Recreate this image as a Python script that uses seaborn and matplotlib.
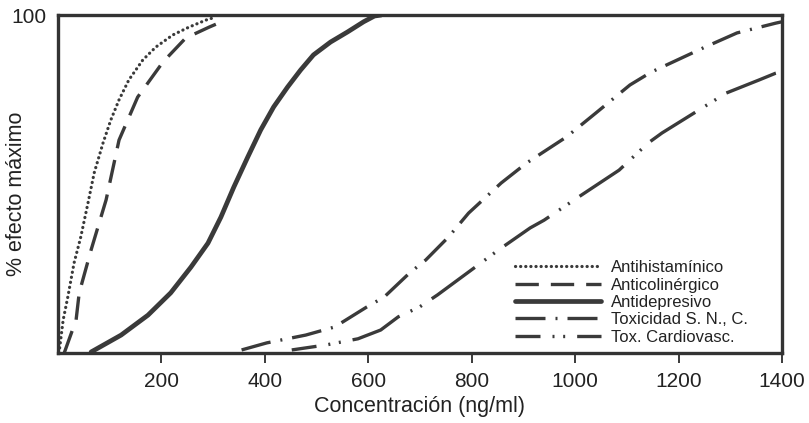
import matplotlib
matplotlib.use("Agg")
import matplotlib.pyplot as plt
import pandas as pd
import seaborn as sns

sns.set_theme(style="white")
plt.rcParams["font.family"] = ["Liberation Sans", "DejaVu Sans"]

# ── data ─────────────────────────────────────────────────────────────────────
antihist_x = [2, 10, 19, 31, 44, 58, 70, 87, 102, 118, 137, 164, 189, 222, 253, 286, 305]
antihist_y = [0, 9.8, 16.6, 26.6, 34.3, 44.4, 53.3, 62.1, 68.9, 74.9, 80.8, 86.7,
              90.5, 94.1, 96.4, 98.5, 99.4]

anticol_x = [12, 35, 41, 64, 93, 118, 154, 203, 247, 292, 324]
anticol_y = [0, 9.8, 17.8, 30.5, 45.3, 63, 75.7, 86.1, 93.2, 96.4, 98.5]

antidep_x = [64, 122, 174, 218, 257, 290, 315, 340, 367, 392, 417, 444, 469, 494,
             527, 560, 591, 612, 625]
antidep_y = [0.3, 5.3, 11.2, 17.8, 25.4, 32.5, 40.2, 49.1, 58, 66, 72.8, 78.7, 83.7,
             88.2, 92, 95, 98, 99.7, 100]

snc_x = [355, 404, 479, 535, 597, 631, 680, 711, 755, 794, 857, 906, 983, 1040,
         1106, 1147, 1251, 1313, 1388, 1400]
snc_y = [0.9, 3, 5.3, 7.7, 13.6, 16.6, 23.7, 27.5, 34.3, 41.4, 50.3, 56.2, 63.9,
         71.0, 79.3, 83.1, 90.5, 94.7, 97.6, 98]

cardio_x = [452, 519, 580, 624, 658, 699, 734, 852, 913, 940, 1010, 1085, 1141, 1168,
            1292, 1356, 1388, 1400]
cardio_y = [0.9, 2.4, 4.2, 6.8, 10.7, 13.6, 17.2, 30.5, 37, 39.3, 46.5, 54.1, 62.1,
            65.1, 76.9, 80.8, 82.8, 83.3]

labels = ["Antihistamínico", "Anticolinérgico", "Antidepresivo",
          "Toxicidad S. N., C.", "Tox. Cardiovasc."]
xticks = [200, 400, 600, 800, 1000, 1200, 1400]

series = [(antihist_x, antihist_y), (anticol_x, anticol_y), (antidep_x, antidep_y),
          (snc_x, snc_y), (cardio_x, cardio_y)]
styles = [
    dict(lw=2.3, linestyle=(0, (0.05, 1.55)), dash_capstyle="round"),
    dict(lw=2.4, linestyle=(0, (7, 3.6))),
    dict(lw=3.4, linestyle="-"),
    dict(lw=2.4, linestyle=(0, (9, 3, 0.6, 3))),
    dict(lw=2.4, linestyle=(8.5, (16, 3.6, 0.6, 2.6, 0.6, 3.6))),
]
ink = "#3a3a3a"

fig = plt.figure(figsize=(8.09, 4.23), dpi=100)
ax = fig.add_axes([0.0717, 0.1655, 0.8949, 0.799])

for (xs, ys), lab, st in zip(series, labels, styles):
    df = pd.DataFrame({"x": xs, "y": ys})
    sns.lineplot(data=df, x="x", y="y", ax=ax, color=ink, label=lab, **st)

ax.set_xlim(0, 1400)
ax.set_ylim(0, 100)
ax.set_xticks(xticks)
ax.set_xticklabels([str(t) for t in xticks])
ax.set_yticks([100])
ax.set_yticklabels(["100"])
ax.tick_params(axis="x", direction="out", length=7, width=1.4, color=ink,
               labelsize=15, labelcolor="#222222", pad=7, bottom=True)
ax.tick_params(axis="y", length=0, labelsize=15, labelcolor="#222222", pad=8)
ax.set_xlabel("Concentración (ng/ml)", fontsize=15.5, color="#222222", labelpad=3)
ax.set_ylabel("% efecto máximo", fontsize=15.5, color="#222222")
ax.yaxis.set_label_coords(-0.043, 0.47)

for sp in ax.spines.values():
    sp.set_visible(True)
    sp.set_linewidth(2.4)
    sp.set_color("#333333")

leg = ax.legend(loc="lower left", bbox_to_anchor=(0.631, 0.025), frameon=False,
                fontsize=12, handlelength=5.2, handletextpad=0.55,
                labelspacing=0.14, borderpad=0, borderaxespad=0)
for t in leg.get_texts():
    t.set_color("#222222")

fig.savefig("out.png", dpi=100)
